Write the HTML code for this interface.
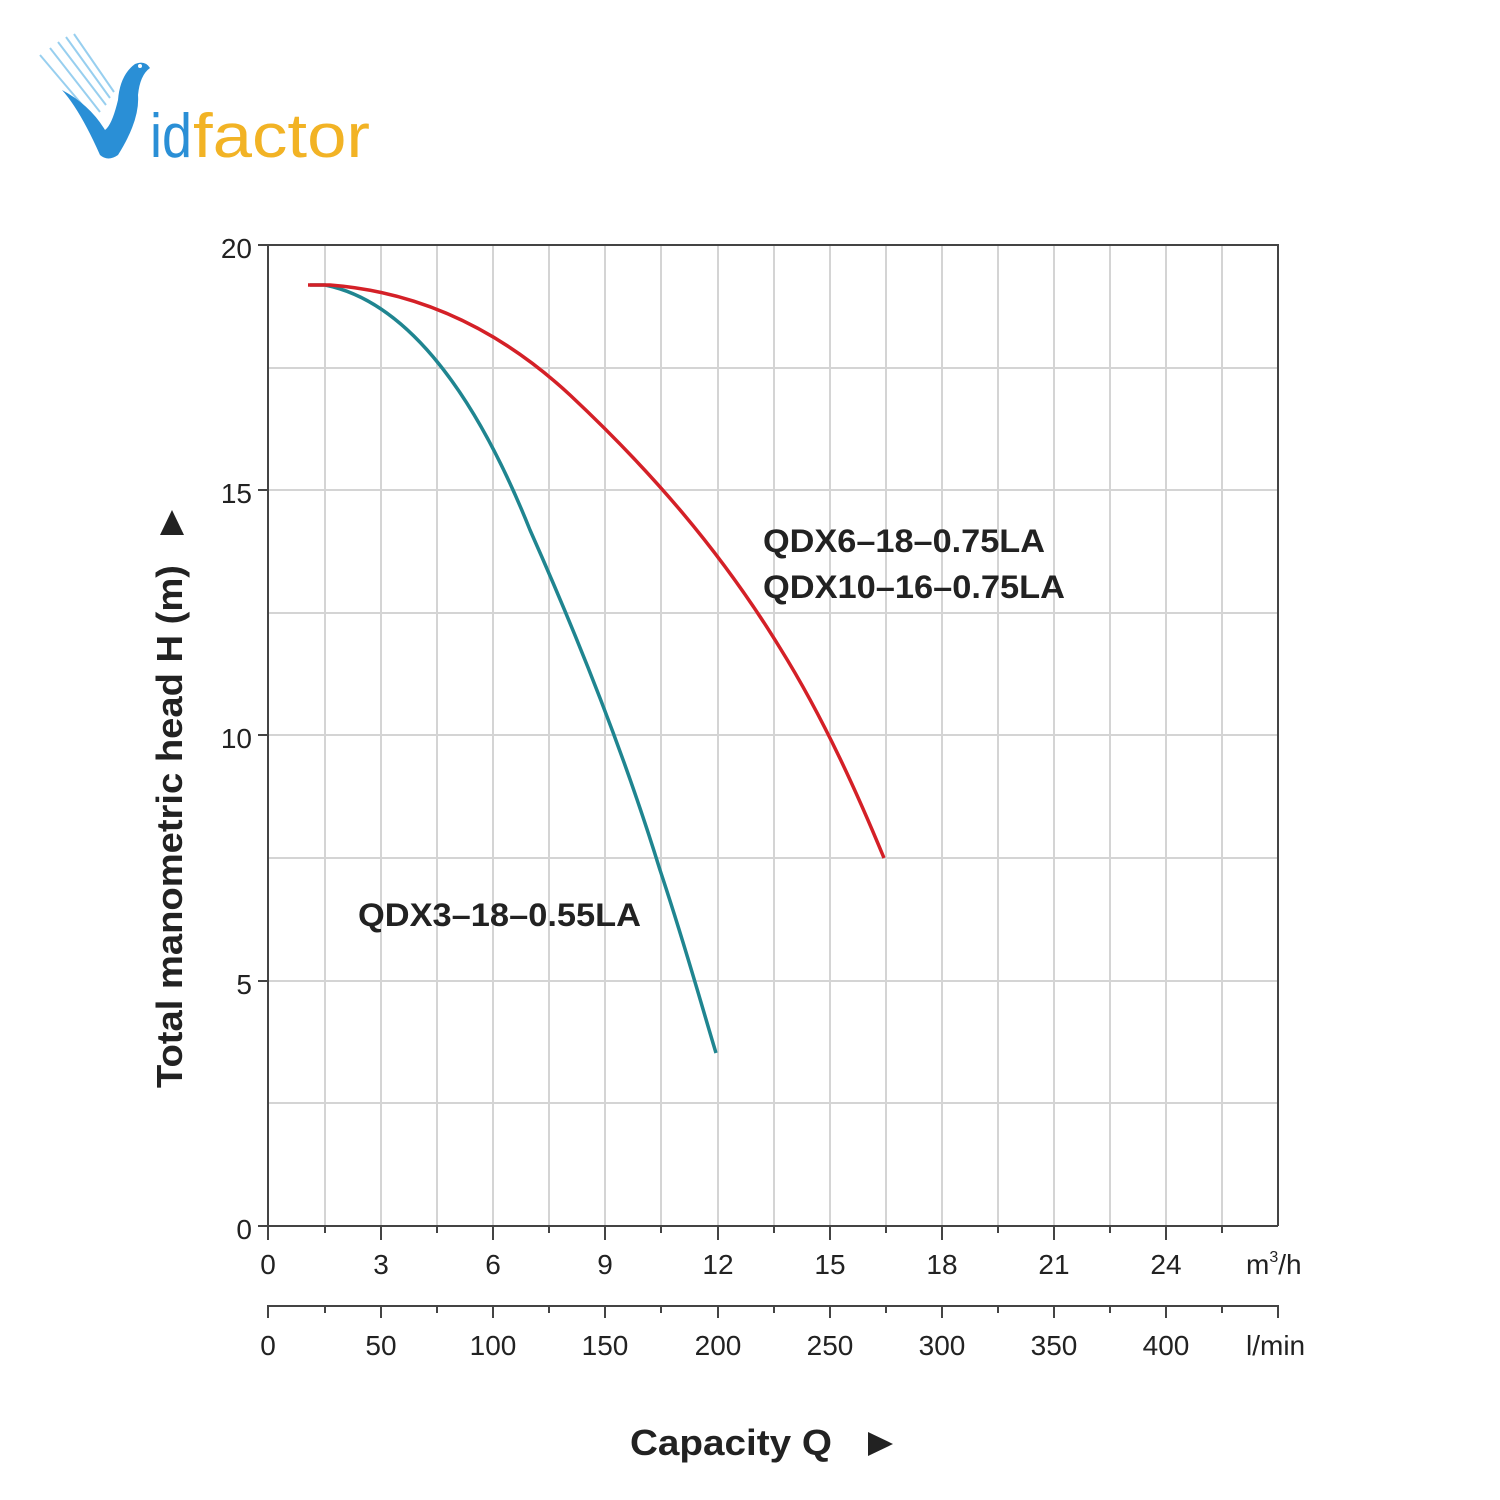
<!DOCTYPE html>
<html><head><meta charset="utf-8"><style>
html,body{margin:0;padding:0;background:#fff;}
svg{display:block;}
text{font-family:"Liberation Sans",Arial,sans-serif;}
</style></head><body>
<svg width="1500" height="1500" viewBox="0 0 1500 1500" xmlns="http://www.w3.org/2000/svg">
<rect width="1500" height="1500" fill="#fff"/>
<!-- logo -->
<g stroke="#7fc4ec" stroke-width="2" opacity="0.8">
<line x1="40" y1="55" x2="95" y2="120"/><line x1="50" y1="48" x2="100" y2="112"/>
<line x1="58" y1="42" x2="106" y2="105"/><line x1="66" y1="37" x2="110" y2="98"/>
<line x1="74" y1="34" x2="114" y2="92"/>
</g>
<path d="M62 90 Q80 110 100 155 Q108 162 118 155 Q140 120 138 95 Q140 75 150 68 Q145 60 135 64 Q120 75 118 100 Q112 125 105 130 Q90 105 62 90 Z" fill="#2a8fd6"/>
<circle cx="140" cy="66" r="2" fill="#fff"/>
<text x="150" y="157" font-size="62" fill="#2a8fd6" textLength="42" lengthAdjust="spacingAndGlyphs">id</text>
<text x="193" y="157" font-size="62" fill="#f2b325" textLength="177" lengthAdjust="spacingAndGlyphs">factor</text>
<!-- grid -->
<g stroke="#d4d4d4" stroke-width="2">
<line x1="325" y1="245" x2="325" y2="1226"/><line x1="381" y1="245" x2="381" y2="1226"/>
<line x1="437" y1="245" x2="437" y2="1226"/><line x1="493" y1="245" x2="493" y2="1226"/>
<line x1="549" y1="245" x2="549" y2="1226"/><line x1="605" y1="245" x2="605" y2="1226"/>
<line x1="661" y1="245" x2="661" y2="1226"/><line x1="718" y1="245" x2="718" y2="1226"/>
<line x1="774" y1="245" x2="774" y2="1226"/><line x1="830" y1="245" x2="830" y2="1226"/>
<line x1="886" y1="245" x2="886" y2="1226"/><line x1="942" y1="245" x2="942" y2="1226"/>
<line x1="998" y1="245" x2="998" y2="1226"/><line x1="1054" y1="245" x2="1054" y2="1226"/>
<line x1="1110" y1="245" x2="1110" y2="1226"/><line x1="1166" y1="245" x2="1166" y2="1226"/>
<line x1="1222" y1="245" x2="1222" y2="1226"/>
<line x1="268" y1="368" x2="1278" y2="368"/><line x1="268" y1="490" x2="1278" y2="490"/>
<line x1="268" y1="613" x2="1278" y2="613"/><line x1="268" y1="735" x2="1278" y2="735"/>
<line x1="268" y1="858" x2="1278" y2="858"/><line x1="268" y1="981" x2="1278" y2="981"/>
<line x1="268" y1="1103" x2="1278" y2="1103"/>
</g>
<g stroke="#444" stroke-width="2" fill="none">
<path d="M268 245 H1278 V1226 M268 245 V1226 H1278"/>
<path d="M268 1318 V1306 H1278 V1318"/>
</g>
<g stroke="#444" stroke-width="2">
<line x1="258" y1="245" x2="268" y2="245"/><line x1="258" y1="490" x2="268" y2="490"/>
<line x1="258" y1="735" x2="268" y2="735"/><line x1="258" y1="981" x2="268" y2="981"/>
<line x1="258" y1="1226" x2="268" y2="1226"/>
<line x1="268" y1="1226" x2="268" y2="1240"/><line x1="325" y1="1226" x2="325" y2="1233"/>
<line x1="381" y1="1226" x2="381" y2="1240"/><line x1="437" y1="1226" x2="437" y2="1233"/>
<line x1="493" y1="1226" x2="493" y2="1240"/><line x1="549" y1="1226" x2="549" y2="1233"/>
<line x1="605" y1="1226" x2="605" y2="1240"/><line x1="661" y1="1226" x2="661" y2="1233"/>
<line x1="718" y1="1226" x2="718" y2="1240"/><line x1="774" y1="1226" x2="774" y2="1233"/>
<line x1="830" y1="1226" x2="830" y2="1240"/><line x1="886" y1="1226" x2="886" y2="1233"/>
<line x1="942" y1="1226" x2="942" y2="1240"/><line x1="998" y1="1226" x2="998" y2="1233"/>
<line x1="1054" y1="1226" x2="1054" y2="1240"/><line x1="1110" y1="1226" x2="1110" y2="1233"/>
<line x1="1166" y1="1226" x2="1166" y2="1240"/><line x1="1222" y1="1226" x2="1222" y2="1233"/>
<line x1="325" y1="1306" x2="325" y2="1313"/><line x1="381" y1="1306" x2="381" y2="1318"/>
<line x1="437" y1="1306" x2="437" y2="1313"/><line x1="493" y1="1306" x2="493" y2="1318"/>
<line x1="549" y1="1306" x2="549" y2="1313"/><line x1="605" y1="1306" x2="605" y2="1318"/>
<line x1="661" y1="1306" x2="661" y2="1313"/><line x1="718" y1="1306" x2="718" y2="1318"/>
<line x1="774" y1="1306" x2="774" y2="1313"/><line x1="830" y1="1306" x2="830" y2="1318"/>
<line x1="886" y1="1306" x2="886" y2="1313"/><line x1="942" y1="1306" x2="942" y2="1318"/>
<line x1="998" y1="1306" x2="998" y2="1313"/><line x1="1054" y1="1306" x2="1054" y2="1318"/>
<line x1="1110" y1="1306" x2="1110" y2="1313"/><line x1="1166" y1="1306" x2="1166" y2="1318"/>
<line x1="1222" y1="1306" x2="1222" y2="1313"/>
</g>
<g font-size="28" fill="#222" text-anchor="end">
<text x="252" y="258">20</text><text x="252" y="503">15</text><text x="252" y="748">10</text>
<text x="252" y="994">5</text><text x="252" y="1239">0</text>
</g>
<g font-size="28" fill="#222" text-anchor="middle">
<text x="268" y="1274">0</text><text x="381" y="1274">3</text><text x="493" y="1274">6</text>
<text x="605" y="1274">9</text><text x="718" y="1274">12</text><text x="830" y="1274">15</text>
<text x="942" y="1274">18</text><text x="1054" y="1274">21</text><text x="1166" y="1274">24</text>
<text x="268" y="1355">0</text><text x="381" y="1355">50</text><text x="493" y="1355">100</text>
<text x="605" y="1355">150</text><text x="718" y="1355">200</text><text x="830" y="1355">250</text>
<text x="942" y="1355">300</text><text x="1054" y="1355">350</text><text x="1166" y="1355">400</text>
</g>
<text x="1246" y="1274" font-size="28" fill="#222">m<tspan dy="-12" font-size="16">3</tspan><tspan dy="12">/h</tspan></text>
<text x="1246" y="1355" font-size="28" fill="#222">l/min</text>
<!-- curves -->
<path d="M310 285 L325 285 C400 300 470 380 530 530 C570 620 620 740 660 870 C685 945 700 1000 716 1053" stroke="#1f8590" stroke-width="3.5" fill="none"/>
<path d="M308 285 L330 285 C420 292 500 330 570 395 C650 470 720 550 780 648 C825 720 860 800 884 858" stroke="#d42027" stroke-width="3.5" fill="none"/>
<g font-size="32" font-weight="bold" fill="#222">
<text x="763" y="552" textLength="282" lengthAdjust="spacingAndGlyphs">QDX6–18–0.75LA</text>
<text x="763" y="598" textLength="302" lengthAdjust="spacingAndGlyphs">QDX10–16–0.75LA</text>
<text x="358" y="926" textLength="283" lengthAdjust="spacingAndGlyphs">QDX3–18–0.55LA</text>
<text x="630" y="1455" font-size="36" textLength="202" lengthAdjust="spacingAndGlyphs">Capacity Q</text>
</g>
<path d="M868 1432 L893 1444 L868 1456 Z" fill="#222"/>
<text transform="translate(182,1088) rotate(-90)" font-size="36" font-weight="bold" fill="#222" textLength="523" lengthAdjust="spacingAndGlyphs">Total manometric head H (m)</text>
<path d="M160 535 L172 510 L184 535 Z" fill="#222"/>
</svg>
</body></html>
